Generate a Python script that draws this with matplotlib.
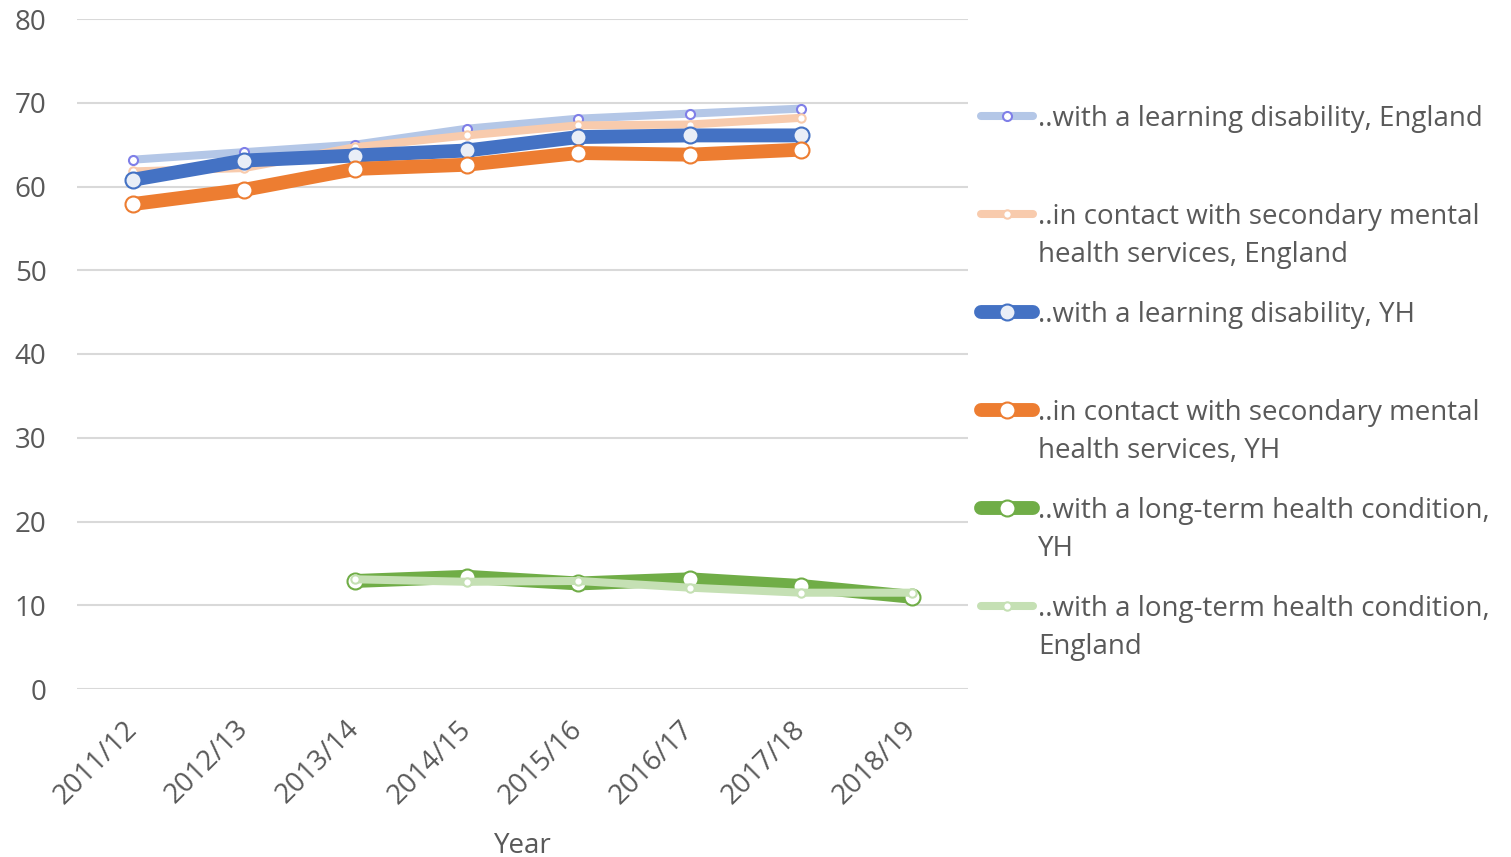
import matplotlib
matplotlib.use('Agg')
import matplotlib.pyplot as plt
from matplotlib.lines import Line2D
import numpy as np

plt.rcParams['font.family'] = ['Open Sans', 'DejaVu Sans']

years = ['2011/12', '2012/13', '2013/14', '2014/15', '2015/16', '2016/17', '2017/18', '2018/19']

ld_england = [63.2, 64.1, 65.0, 66.9, 68.1, 68.7, 69.3, None]
mh_england = [61.8, 62.2, 64.7, 66.1, 67.3, 67.4, 68.2, None]
ld_yh = [60.8, 63.1, 63.7, 64.3, 65.9, 66.1, 66.1, None]
mh_yh = [57.9, 59.6, 62.1, 62.6, 64.0, 63.8, 64.4, None]
ltc_yh = [None, None, 12.9, 13.4, 12.6, 13.1, 12.3, 11.0]
ltc_england = [None, None, 13.1, 12.8, 12.9, 12.1, 11.5, 11.5]

labels = ['..with a learning disability, England',
          '..in contact with secondary mental\nhealth services, England',
          '..with a learning disability, YH',
          '..in contact with secondary mental\nhealth services, YH',
          '..with a long-term health condition,\nYH',
          '..with a long-term health condition,\nEngland']

text_col = '#595959'
fs = 20

# line colour, line width, marker size, marker face, marker edge
styles = [
    ('#B4C7E7', 5.8, 6.5, 'white', '#7F7FE8'),
    ('#F8CBAD', 5.8, 6.0, 'white', '#F8CBAD'),
    ('#4472C4', 10, 11.5, '#E9EEF7', '#4472C4'),
    ('#ED7D31', 10, 11.5, 'white', '#ED7D31'),
    ('#70AD47', 10, 11.5, 'white', '#70AD47'),
    ('#C5E0B4', 5.8, 6.0, 'white', '#C5E0B4'),
]
series = [ld_england, mh_england, ld_yh, mh_yh, ltc_yh, ltc_england]

fig = plt.figure(figsize=(15.11, 8.57), dpi=100)
ax = fig.add_axes([77 / 1511, 1 - 689 / 857, (968 - 77) / 1511, (689 - 19) / 857])

x = np.arange(len(years))
for vals, (col, lw, ms, fc, ec) in zip(series, styles):
    y = np.array([np.nan if v is None else v for v in vals])
    ax.plot(x, y, color=col, lw=lw, marker='o', ms=ms, mfc=fc, mec=ec,
            mew=1.5, solid_joinstyle='round', solid_capstyle='round', zorder=3)

ax.set_xlim(-0.5, len(years) - 0.5)
ax.set_ylim(0, 80)
ax.set_yticks(range(0, 81, 10))
ax.set_xticks(x)
ax.set_xticklabels(years, rotation=45, ha='right', va='center', rotation_mode='anchor')
ax.grid(axis='y', color='#D9D9D9', lw=1.5)
ax.set_axisbelow(True)
for s in ax.spines.values():
    s.set_visible(False)
ax.tick_params(axis='both', length=0, labelsize=fs, labelcolor=text_col)
ax.tick_params(axis='x', pad=26)
ax.tick_params(axis='y', pad=22)
ax.set_xlabel('Year', fontsize=fs, color=text_col, labelpad=16)

# legend on the right, one block per series, text lines 38 px apart
leg_y = [116, 214, 312, 410, 508, 606]
for lab, ly, (col, lw, ms, fc, ec) in zip(labels, leg_y, styles):
    yf = 1 - ly / 857
    fig.add_artist(Line2D([981 / 1511, 1033 / 1511], [yf, yf], color=col, lw=lw,
                          solid_capstyle='round', transform=fig.transFigure))
    fig.add_artist(Line2D([1007 / 1511], [yf], marker='o', ms=ms, mfc=fc, mec=ec,
                          mew=1.5, transform=fig.transFigure))
    for i, part in enumerate(lab.split('\n')):
        fig.text(1038 / 1511, 1 - (ly + 10 + 38 * i) / 857, part, fontsize=fs,
                 color=text_col, va='baseline', ha='left')

fig.savefig('out.png', dpi=100)
